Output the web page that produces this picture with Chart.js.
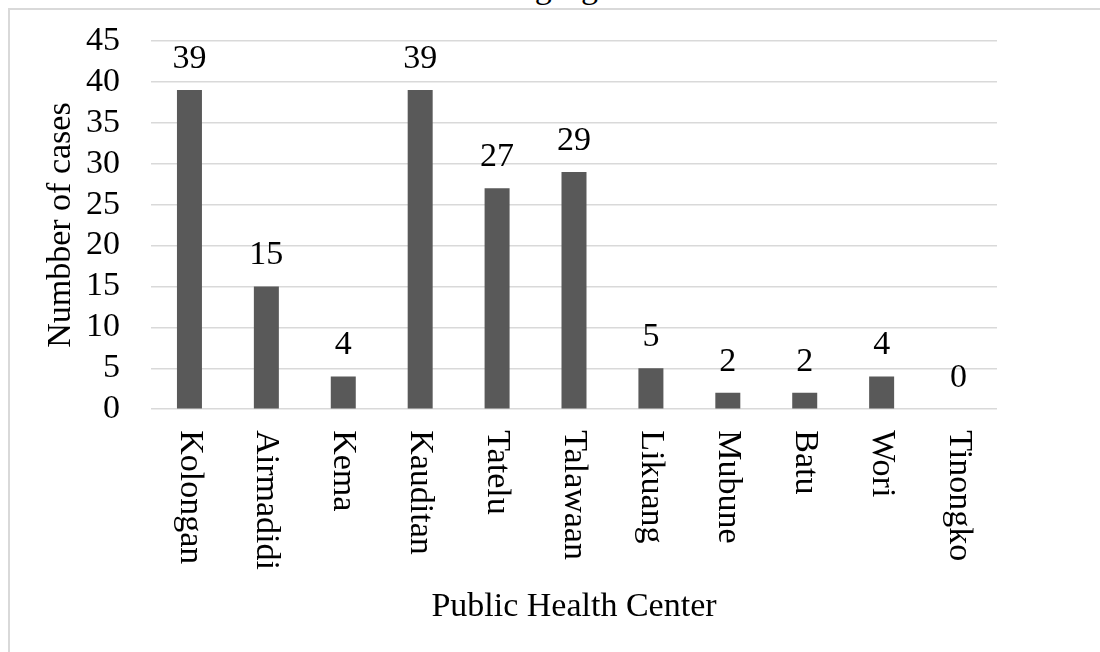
<!DOCTYPE html>
<html>
<head>
<meta charset="utf-8">
<script src="https://cdn.jsdelivr.net/npm/chart.js@4.4.1/dist/chart.umd.min.js"></script>
<style>
    html, body { margin: 0; padding: 0; background: #fff; overflow: hidden; }
    #page { position: relative; width: 1100px; height: 652px; overflow: hidden; }
    #frame {
        position: absolute; left: 8px; top: 8px; width: 1200px; height: 800px;
        border-left: 2px solid #d9d9d9; border-top: 2px solid #d9d9d9;
    }
    #caption {
        position: absolute; right: 450px; top: -30px; text-align: right;
        white-space: nowrap; font: 34px/34px "Liberation Serif", serif; color: #000;
    }
    #wrap { position: absolute; left: 0; top: 0; width: 1100px; height: 652px; }
</style>
</head>
<body>
<div id="page">
    <div id="frame"></div>
    <div id="caption">The number of cases can be seen in the following figure.</div>
    <div id="wrap"><canvas id="casesChart"></canvas></div>
</div>
<script>
// Cases per public health center
const centers = ['Kolongan', 'Airmadidi', 'Kema', 'Kauditan', 'Tatelu', 'Talawaan',
    'Likuang', 'Mubune', 'Batu', 'Wori', 'Tinongko'];
const cases = [39, 15, 4, 39, 27, 29, 5, 2, 2, 4, 0];
const yTicks = [0, 5, 10, 15, 20, 25, 30, 35, 40, 45];

const FONT = '"Liberation Serif", serif';
const FONT_SIZE = 34;

// draws value labels above bars and the clockwise-rotated category labels
const labelPlugin = {
    id: 'barLabels',
    afterDraw(chart) {
        const ctx = chart.ctx;
        const meta = chart.getDatasetMeta(0);
        const xScale = chart.scales.x;
        const area = chart.chartArea;
        ctx.save();
        ctx.fillStyle = '#000';
        ctx.font = FONT_SIZE + 'px ' + FONT;

        // values
        ctx.textAlign = 'center';
        ctx.textBaseline = 'alphabetic';
        meta.data.forEach((bar, i) => {
            ctx.fillText(String(cases[i]), bar.x, bar.y - 22);
        });

        // category names, reading top to bottom
        centers.forEach((name, i) => {
            const x = xScale.getPixelForValue(i);
            ctx.save();
            ctx.translate(x, area.bottom + 21);
            ctx.rotate(Math.PI / 2);
            ctx.textAlign = 'left';
            ctx.textBaseline = 'middle';
            ctx.fillText(name, 0, 0);
            ctx.restore();
        });
        ctx.restore();
    }
};

document.addEventListener('DOMContentLoaded', () => {
    const ctx = document.getElementById('casesChart');
    new Chart(ctx, {
        type: 'bar',
        data: {
            labels: centers,
            datasets: [{
                data: cases,
                backgroundColor: '#595959',
                borderWidth: 0,
                categoryPercentage: 1,
                barPercentage: 0.325
            }]
        },
        options: {
            responsive: true,
            maintainAspectRatio: false,
            animation: false,
            layout: {
                padding: { left: 20, top: 41, right: 103, bottom: 0 }
            },
            plugins: {
                legend: { display: false },
                tooltip: { enabled: false }
            },
            scales: {
                x: {
                    grid: { display: false, drawTicks: false },
                    border: { display: false },
                    ticks: { display: false },
                    title: {
                        display: true,
                        text: 'Public Health Center',
                        color: '#000',
                        font: { family: FONT, size: FONT_SIZE },
                        padding: { top: 177, bottom: 25 }
                    }
                },
                y: {
                    min: 0,
                    max: 45,
                    afterBuildTicks: (scale) => {
                        scale.ticks = yTicks.map(v => ({ value: v }));
                    },
                    // the big tick padding should not push the plot area down
                    afterFit: (scale) => {
                        scale.paddingTop = 0;
                        scale.paddingBottom = 0;
                    },
                    grid: { color: '#d9d9d9', lineWidth: 1.5, drawTicks: false },
                    border: { display: false },
                    ticks: {
                        color: '#000',
                        padding: 31,
                        autoSkip: false,
                        font: { family: FONT, size: FONT_SIZE }
                    },
                    title: {
                        display: true,
                        text: 'Numbber of cases',
                        color: '#000',
                        font: { family: FONT, size: FONT_SIZE },
                        padding: { top: 20.6, bottom: -26.4 }
                    }
                }
            }
        },
        plugins: [labelPlugin]
    });
});
</script>
</body>
</html>
